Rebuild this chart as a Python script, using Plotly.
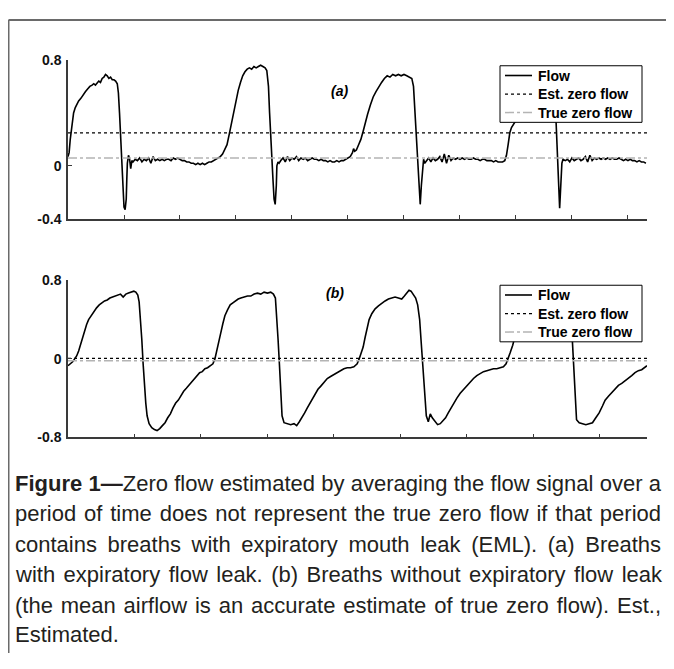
import plotly.graph_objects as go

# ---------------- data ----------------
# Panel (a): breaths with expiratory flow leak
TIME_A = [
    0.00, 0.02, 0.04, 0.07, 0.10, 0.13, 0.16, 0.19, 0.23, 0.27, 0.31, 0.35, 0.39, 0.43, 0.46,
    0.49, 0.52, 0.55, 0.58, 0.61, 0.64, 0.67, 0.70, 0.73, 0.76, 0.79, 0.82, 0.85, 0.88, 0.90,
    0.92, 0.94, 0.96, 0.98, 1.00, 1.02, 1.04, 1.05, 1.06, 1.08, 1.10, 1.12, 1.14,
    1.16, 1.20, 1.24, 1.28, 1.32, 1.36, 1.40, 1.44, 1.48, 1.52, 1.56, 1.60, 1.64, 1.68, 1.72,
    1.76, 1.80, 1.84, 1.88, 1.92, 1.96, 2.00, 2.04, 2.08, 2.12, 2.16, 2.20, 2.24, 2.28, 2.32,
    2.36, 2.40, 2.44, 2.48, 2.52, 2.56, 2.60,
    2.64, 2.68, 2.72, 2.76, 2.80, 2.84, 2.88, 2.92, 2.96, 3.00, 3.04, 3.08, 3.12, 3.16, 3.20,
    3.24, 3.28, 3.32, 3.36, 3.40, 3.44, 3.48, 3.52, 3.55, 3.58, 3.60, 3.62, 3.64, 3.66, 3.68,
    3.70, 3.72, 3.73, 3.75, 3.77,
    3.80, 3.84, 3.88, 3.92, 3.96, 4.00, 4.04, 4.08, 4.12, 4.16, 4.20, 4.24, 4.28, 4.32, 4.36,
    4.40, 4.44, 4.48, 4.52, 4.56, 4.60, 4.64, 4.68, 4.72, 4.76, 4.80, 4.84, 4.88, 4.92, 4.96,
    5.00, 5.04, 5.08, 5.10, 5.12, 5.15, 5.19, 5.23, 5.27, 5.31, 5.35, 5.40, 5.45, 5.50, 5.55,
    5.60, 5.65, 5.70, 5.75, 5.80, 5.85, 5.90, 5.95, 6.00, 6.05, 6.10, 6.14, 6.17, 6.19, 6.21,
    6.23, 6.25, 6.27, 6.29, 6.31, 6.33, 6.35, 6.37,
    6.40, 6.44, 6.48, 6.52, 6.56, 6.60, 6.64, 6.68, 6.72, 6.76, 6.80, 6.84, 6.88, 6.92, 6.96,
    7.00, 7.04, 7.08, 7.12, 7.16, 7.20, 7.24, 7.28, 7.32, 7.36, 7.40, 7.44, 7.48, 7.52, 7.56,
    7.60, 7.64, 7.68, 7.72, 7.76,
    7.80, 7.83, 7.86, 7.89, 7.92, 7.95, 7.98, 8.02, 8.08, 8.15, 8.25, 8.35, 8.45, 8.55, 8.65,
    8.69, 8.71, 8.73, 8.75, 8.77, 8.78, 8.80, 8.82, 8.84,
    8.88, 8.92, 8.96, 9.00, 9.04, 9.08, 9.12, 9.16, 9.20, 9.24, 9.28, 9.32, 9.36, 9.40, 9.44,
    9.48, 9.52, 9.56, 9.60, 9.64, 9.68, 9.72, 9.76, 9.80, 9.84, 9.88, 9.92, 9.96, 10.00, 10.04,
    10.08, 10.12, 10.16, 10.20, 10.24, 10.28, 10.32,
]
FLOW_A = [
    0.07, 0.10, 0.20, 0.32, 0.40, 0.44, 0.47, 0.49, 0.51, 0.54, 0.56, 0.58, 0.60, 0.61, 0.62,
    0.61, 0.63, 0.64, 0.63, 0.66, 0.67, 0.69, 0.68, 0.66, 0.67, 0.65, 0.65, 0.64, 0.62, 0.55,
    0.40, 0.20, 0.00, -0.20, -0.31, -0.33, -0.25, -0.10, 0.02, 0.08, 0.05, -0.02, 0.04,
    0.03, 0.05, 0.04, 0.06, 0.03, 0.05, 0.04, 0.06, 0.02, 0.07, 0.04, 0.05, 0.04, 0.05, 0.04,
    0.05, 0.05, 0.04, 0.06, 0.05, 0.06, 0.05, 0.04, 0.04, 0.03, 0.03, 0.02, 0.02, 0.01, 0.02,
    0.01, 0.02, 0.01, 0.02, 0.03, 0.03, 0.04,
    0.05, 0.06, 0.07, 0.09, 0.12, 0.16, 0.24, 0.33, 0.42, 0.50, 0.57, 0.63, 0.68, 0.71, 0.73,
    0.74, 0.73, 0.75, 0.74, 0.75, 0.76, 0.75, 0.74, 0.72, 0.60, 0.40, 0.20, 0.05, -0.10, -0.25,
    -0.29, -0.15, 0.00, 0.03, 0.02,
    0.04, 0.06, 0.03, 0.07, 0.04, 0.06, 0.05, 0.07, 0.04, 0.06, 0.05, 0.06, 0.04, 0.05, 0.06,
    0.05, 0.05, 0.04, 0.05, 0.04, 0.04, 0.03, 0.04, 0.03, 0.03, 0.04, 0.03, 0.04, 0.04, 0.05,
    0.06, 0.07, 0.10, 0.13, 0.11, 0.12, 0.16, 0.20, 0.26, 0.33, 0.39, 0.46, 0.52, 0.56, 0.60,
    0.63, 0.66, 0.68, 0.67, 0.69, 0.68, 0.69, 0.68, 0.69, 0.68, 0.67, 0.66, 0.60, 0.45, 0.28,
    0.10, -0.08, -0.22, -0.29, -0.15, 0.00, 0.05, 0.02,
    0.04, 0.06, 0.03, 0.06, 0.04, 0.05, 0.07, 0.03, 0.09, 0.02, 0.08, 0.04, 0.06, 0.05, 0.06,
    0.05, 0.06, 0.05, 0.06, 0.05, 0.05, 0.06, 0.05, 0.05, 0.04, 0.05, 0.05, 0.04, 0.04, 0.04,
    0.03, 0.04, 0.03, 0.03, 0.03,
    0.04, 0.08, 0.16, 0.25, 0.29, 0.31, 0.33, 0.40, 0.50, 0.58, 0.64, 0.67, 0.68, 0.68, 0.67,
    0.60, 0.40, 0.15, -0.10, -0.28, -0.32, -0.15, 0.02, 0.05,
    0.04, 0.05, 0.03, 0.06, 0.04, 0.05, 0.06, 0.04, 0.05, 0.07, 0.03, 0.08, 0.04, 0.06, 0.05,
    0.06, 0.05, 0.06, 0.05, 0.06, 0.05, 0.06, 0.05, 0.05, 0.06, 0.05, 0.04, 0.05, 0.04, 0.05,
    0.04, 0.04, 0.03, 0.04, 0.03, 0.03, 0.02,
]
EST_ZERO_A = 0.25
TRUE_ZERO_A = 0.06
XMAX_A = 10.34
XTICKS_A = [1, 2, 3, 4, 5, 6, 7, 8, 9, 10, 10.34]
YTICKS_A = [-0.4, 0, 0.8]
YTICKTEXT_A = ["-0.4", "0", "0.8"]

# Panel (b): breaths without expiratory flow leak
TIME_B = [
    0.00, 0.04, 0.07, 0.10, 0.13, 0.16, 0.19, 0.22, 0.25, 0.28, 0.31, 0.35, 0.39, 0.43, 0.47,
    0.51, 0.55, 0.59, 0.63, 0.67, 0.71, 0.75, 0.79, 0.83, 0.87, 0.91, 0.95, 0.99, 1.02, 1.05,
    1.07, 1.09, 1.11, 1.13, 1.15, 1.17, 1.19, 1.22, 1.26, 1.30, 1.34, 1.38, 1.42, 1.46, 1.50,
    1.54, 1.58, 1.62, 1.66, 1.70, 1.74, 1.78, 1.82, 1.86, 1.90, 1.94, 1.98, 2.02, 2.06, 2.10,
    2.14, 2.18, 2.21, 2.24, 2.27, 2.30, 2.33, 2.36, 2.40, 2.44, 2.48, 2.52, 2.56, 2.60, 2.65,
    2.70, 2.75, 2.80, 2.85, 2.90, 2.95, 3.00, 3.05, 3.09, 3.12, 3.14, 3.16, 3.18, 3.20, 3.22,
    3.25, 3.30, 3.35, 3.40, 3.44, 3.48, 3.52, 3.56, 3.60, 3.64, 3.68, 3.72, 3.76, 3.80, 3.85,
    3.90, 3.95, 4.00, 4.05, 4.10, 4.15, 4.20, 4.25, 4.30, 4.35, 4.38, 4.41, 4.44, 4.47, 4.50,
    4.53, 4.57, 4.62, 4.67, 4.72, 4.77, 4.82, 4.87, 4.92, 4.97, 5.02, 5.06, 5.10, 5.13, 5.16,
    5.19, 5.23, 5.26, 5.29, 5.31, 5.33, 5.35, 5.37, 5.39, 5.42, 5.45, 5.48, 5.52, 5.56, 5.60,
    5.64, 5.68, 5.72, 5.76, 5.80, 5.85, 5.90, 5.95, 6.00, 6.05, 6.10, 6.15, 6.20, 6.25, 6.30,
    6.35, 6.40, 6.45, 6.50, 6.55, 6.59, 6.62, 6.65, 6.69, 6.73, 6.78, 6.85, 6.95, 7.05, 7.20,
    7.35, 7.48, 7.54, 7.57, 7.59, 7.61, 7.63, 7.65, 7.69, 7.74, 7.79, 7.84, 7.89, 7.94, 7.99,
    8.04, 8.08, 8.13, 8.18, 8.23, 8.28, 8.33, 8.38, 8.43, 8.48, 8.53, 8.58, 8.63, 8.68, 8.71,
]
FLOW_B = [
    -0.07, -0.05, -0.03, 0.00, 0.03, 0.08, 0.15, 0.22, 0.30, 0.35, 0.40, 0.44, 0.49, 0.52, 0.55,
    0.57, 0.59, 0.60, 0.62, 0.63, 0.64, 0.65, 0.66, 0.63, 0.66, 0.67, 0.68, 0.69, 0.68, 0.65,
    0.58, 0.42, 0.20, -0.05, -0.30, -0.45, -0.58, -0.66, -0.70, -0.72, -0.73, -0.71, -0.68, -0.65, -0.60,
    -0.56, -0.50, -0.45, -0.42, -0.37, -0.33, -0.30, -0.27, -0.23, -0.21, -0.18, -0.14, -0.13, -0.10, -0.09,
    -0.07, -0.05, 0.00, 0.10, 0.18, 0.27, 0.36, 0.44, 0.50, 0.55, 0.57, 0.59, 0.61, 0.62, 0.63,
    0.64, 0.64, 0.66, 0.67, 0.66, 0.68, 0.67, 0.68, 0.66, 0.62, 0.45, 0.20, -0.05, -0.40, -0.58,
    -0.65, -0.66, -0.67, -0.66, -0.68, -0.64, -0.60, -0.55, -0.50, -0.45, -0.40, -0.36, -0.31, -0.28, -0.24,
    -0.20, -0.18, -0.16, -0.14, -0.12, -0.10, -0.09, -0.09, -0.08, -0.05, 0.00, 0.06, 0.12, 0.22, 0.32,
    0.40, 0.46, 0.51, 0.54, 0.57, 0.59, 0.61, 0.62, 0.63, 0.62, 0.61, 0.64, 0.67, 0.70, 0.69,
    0.66, 0.62, 0.55, 0.40, 0.20, 0.00, -0.25, -0.45, -0.58, -0.64, -0.56, -0.60, -0.64, -0.67, -0.66,
    -0.63, -0.60, -0.55, -0.50, -0.46, -0.40, -0.35, -0.31, -0.27, -0.24, -0.20, -0.17, -0.15, -0.13, -0.12,
    -0.11, -0.10, -0.10, -0.09, -0.08, -0.05, 0.00, 0.06, 0.14, 0.25, 0.38, 0.48, 0.56, 0.61, 0.64,
    0.66, 0.66, 0.60, 0.40, 0.15, -0.15, -0.45, -0.62, -0.65, -0.66, -0.67, -0.66, -0.65, -0.60, -0.55,
    -0.48, -0.42, -0.38, -0.34, -0.31, -0.27, -0.25, -0.22, -0.19, -0.17, -0.14, -0.12, -0.11, -0.08, -0.07,
]
EST_ZERO_B = 0.005
TRUE_ZERO_B = -0.02
XMAX_B = 8.71
XTICKS_B = [1, 2, 3, 4, 5, 6, 7, 8, 8.71]
YTICKS_B = [-0.8, 0, 0.8]
YTICKTEXT_B = ["-0.8", "0", "0.8"]

LEGEND_NAMES = ["Flow", "Est. zero flow", "True zero flow"]
PANEL_LABELS = ["(a)", "(b)"]
CAPTION_LINES = [
    "<b>Figure 1\u2014</b>Zero flow estimated by averaging the flow signal over a",
    "period of time does not represent the true zero flow if that period",
    "contains breaths with expiratory mouth leak (EML). (a) Breaths",
    "with expiratory flow leak. (b) Breaths without expiratory flow leak",
    "(the mean airflow is an accurate estimate of true zero flow). Est.,",
    "Estimated.",
]

# ---------------- layout helpers (screen pixels; page has an 8px body margin) ----------------
OFF = 8
FW, FH = 658, 653
FONT = "Liberation Sans, Arial, sans-serif"


def fx(p):
    return (p - OFF) / FW


def fy(p):
    return 1 - (p - OFF) / FH


fig = go.Figure()

flow_line = dict(color="black", width=1.6)
est_line = dict(color="black", width=1.2, dash="dot")
true_line = dict(color="#b4b4b4", width=1.5, dash="dashdot")
line_styles = [flow_line, est_line, true_line]

# panel (a)
fig.add_trace(go.Scatter(x=TIME_A, y=FLOW_A, mode="lines", line=flow_line,
                         name=LEGEND_NAMES[0], xaxis="x", yaxis="y"))
fig.add_trace(go.Scatter(x=[0, XMAX_A], y=[EST_ZERO_A, EST_ZERO_A], mode="lines", line=est_line,
                         name=LEGEND_NAMES[1], xaxis="x", yaxis="y"))
fig.add_trace(go.Scatter(x=[0, XMAX_A], y=[TRUE_ZERO_A, TRUE_ZERO_A], mode="lines", line=true_line,
                         name=LEGEND_NAMES[2], xaxis="x", yaxis="y"))
# panel (b)
fig.add_trace(go.Scatter(x=TIME_B, y=FLOW_B, mode="lines", line=flow_line,
                         name=LEGEND_NAMES[0], xaxis="x2", yaxis="y2"))
fig.add_trace(go.Scatter(x=[0, XMAX_B], y=[EST_ZERO_B, EST_ZERO_B], mode="lines", line=est_line,
                         name=LEGEND_NAMES[1], xaxis="x2", yaxis="y2"))
fig.add_trace(go.Scatter(x=[0, XMAX_B], y=[TRUE_ZERO_B, TRUE_ZERO_B], mode="lines", line=true_line,
                         name=LEGEND_NAMES[2], xaxis="x2", yaxis="y2"))

axis_col = "#3a3a3a"
xdom = [fx(68), fx(647)]
common_x = dict(domain=xdom, showline=True, linecolor=axis_col, linewidth=1.5,
                ticks="inside", ticklen=4, tickwidth=1.2, tickcolor=axis_col,
                showticklabels=False, showgrid=False, zeroline=False, fixedrange=True)
common_y = dict(showline=True, linecolor=axis_col, linewidth=1.5,
                ticks="inside", ticklen=4, tickwidth=1.2, tickcolor=axis_col,
                showgrid=False, zeroline=False, ticklabelstandoff=2,
                tickfont=dict(family=FONT, size=14, color="#111", weight="bold"))

fig.update_layout(
    width=FW, height=FH,
    margin=dict(l=0, r=0, t=0, b=0, pad=0),
    paper_bgcolor="white", plot_bgcolor="white",
    showlegend=False,
    xaxis=dict(common_x, anchor="y", range=[0, XMAX_A], tickvals=XTICKS_A),
    yaxis=dict(common_y, anchor="x", domain=[fy(216), fy(53)], range=[-0.4, 0.8],
               tickvals=YTICKS_A, ticktext=YTICKTEXT_A),
    xaxis2=dict(common_x, anchor="y2", range=[0, XMAX_B], tickvals=XTICKS_B),
    yaxis2=dict(common_y, anchor="x2", domain=[fy(440), fy(279)], range=[-0.8, 0.8],
                tickvals=YTICKS_B, ticktext=YTICKTEXT_B),
)

# outer frame (left and top edges)
frame = dict(color="#6a6a6a", width=2)
fig.add_shape(type="line", xref="paper", yref="paper", x0=fx(8.5), x1=fx(8.5), y0=0, y1=fy(12),
              line=frame)
fig.add_shape(type="line", xref="paper", yref="paper", x0=fx(8.5), x1=1, y0=fy(12), y1=fy(12),
              line=frame)

# legend boxes (opaque, drawn above the traces like the original)
for top in (59, 284):
    fig.add_shape(type="rect", xref="paper", yref="paper", layer="above",
                  x0=fx(500), x1=fx(642), y0=fy(top), y1=fy(top + 58),
                  fillcolor="white", line=dict(color="black", width=1))
    for i, (name, st) in enumerate(zip(LEGEND_NAMES, line_styles)):
        yy = top + 10 + 19 * i
        fig.add_shape(type="line", xref="paper", yref="paper", layer="above",
                      x0=fx(505), x1=fx(532), y0=fy(yy), y1=fy(yy), line=st)
        fig.add_annotation(text="<b>" + name + "</b>", xref="paper", yref="paper",
                           x=fx(536), y=fy(yy), xanchor="left", yanchor="middle",
                           showarrow=False, font=dict(family=FONT, size=14, color="black"))

# panel labels
fig.add_annotation(text="<b><i>" + PANEL_LABELS[0] + "</i></b>", xref="paper", yref="paper",
                   x=fx(339), y=fy(75), showarrow=False,
                   font=dict(family=FONT, size=14, color="black"))
fig.add_annotation(text="<b><i>" + PANEL_LABELS[1] + "</i></b>", xref="paper", yref="paper",
                   x=fx(335), y=fy(292), showarrow=False,
                   font=dict(family=FONT, size=14, color="black"))

# caption, justified with word spacing
line_y = [487, 518, 550, 581, 612, 642]
word_gap = [0.16, 1.76, 4.49, 2.36, 1.71, 0]
for txt, yy, gap in zip(CAPTION_LINES, line_y, word_gap):
    fig.add_annotation(text='<span style="word-spacing:%.2fpx">%s</span>' % (gap, txt),
                       xref="paper", yref="paper", x=fx(13), y=fy(yy),
                       xanchor="left", yanchor="middle", showarrow=False,
                       font=dict(family=FONT, size=22, color="#231f20"))

fig.write_html("out.html")
